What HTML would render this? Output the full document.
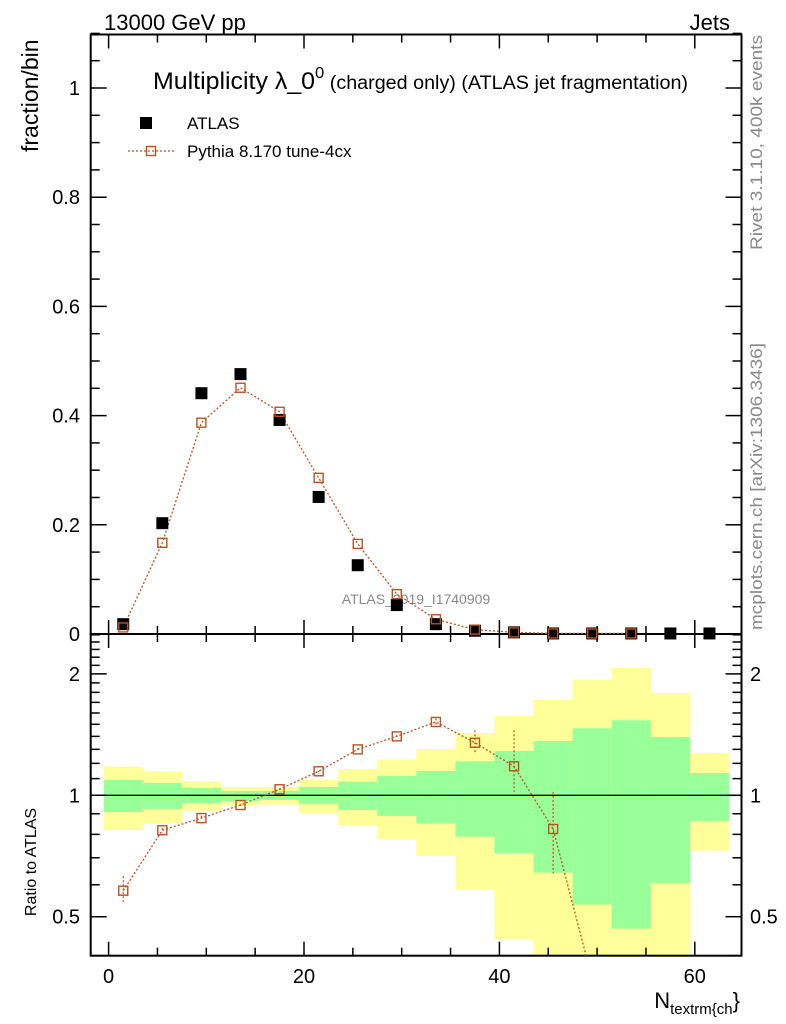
<!DOCTYPE html>
<html><head><meta charset="utf-8"><style>
body{margin:0;background:#fff;}
svg{display:block;font-family:"Liberation Sans",sans-serif;}
</style></head><body>
<svg id="chart" width="786" height="1024" viewBox="0 0 786 1024">
<text x="104" y="30" font-size="22">13000 GeV pp</text>
<text x="730" y="30" font-size="22" text-anchor="end">Jets</text>
<text x="153" y="89" font-size="24" textLength="535" lengthAdjust="spacingAndGlyphs">Multiplicity λ_0<tspan dy="-11" font-size="16">0</tspan><tspan dy="11" font-size="19"> (charged only) (ATLAS jet fragmentation)</tspan></text>
<text transform="translate(38,152) rotate(-90)" font-size="23" text-anchor="start">fraction/bin</text>
<text transform="translate(36,862) rotate(-90)" font-size="16" text-anchor="middle">Ratio to ATLAS</text>
<text transform="translate(762,250) rotate(-90)" font-size="17" fill="#888" textLength="215" lengthAdjust="spacingAndGlyphs">Rivet 3.1.10,  400k events</text>
<text transform="translate(762,630) rotate(-90)" font-size="17" fill="#888" textLength="287" lengthAdjust="spacingAndGlyphs">mcplots.cern.ch [arXiv:1306.3436]</text>
<text x="416" y="604" font-size="14" fill="#888" text-anchor="middle">ATLAS_2019_I1740909</text>
<text x="740" y="1008" font-size="22" text-anchor="end">N<tspan dy="6" font-size="15">textrm{ch</tspan><tspan dy="-6">}</tspan></text>
<rect x="140" y="117" width="12" height="12" fill="#000"/>
<text x="187" y="129" font-size="17">ATLAS</text>
<line x1="128" y1="151" x2="175" y2="151" stroke="#c0501e" stroke-width="1.3" stroke-dasharray="2,2"/>
<rect x="146.5" y="146.5" width="9" height="9" fill="none" stroke="#c0501e" stroke-width="1.4"/>
<text x="187" y="157" font-size="17">Pythia 8.170 tune-4cx</text>
<g id="g"></g>
</svg>
<script>
const binLo=[-0.5,3.5,7.5,11.5,15.5,19.5,23.5,27.5,31.5,35.5,39.5,43.5,47.5,51.5,55.5,59.5];
const dataX=[1.5,5.5,9.5,13.5,17.5,21.5,25.5,29.5,33.5,37.5,41.5,45.5,49.5,53.5,57.5,61.5];
const atlasY=[0.018,0.203,0.441,0.476,0.392,0.251,0.126,0.053,0.018,0.006,0.003,0.001,0.001,0.001,0.001,0.001];
const mcX=[1.5,5.5,9.5,13.5,17.5,21.5,25.5,29.5,33.5,37.5,41.5,45.5,49.5,53.5];
const mcY=[0.012,0.167,0.387,0.451,0.407,0.286,0.165,0.073,0.027,0.008,0.003,0.001,0.001,0.001];
const ratio=[0.58,0.819,0.878,0.946,1.035,1.147,1.30,1.40,1.52,1.35,1.18,0.825,0.35,0.3];
const ratioErrHi=[0.63,0.83,0.89,0.95,1.04,1.15,1.31,1.41,1.55,1.45,1.45,1.02,0.35,0.3];
const ratioErrLo=[0.54,0.81,0.87,0.94,1.03,1.14,1.29,1.39,1.49,1.27,1.02,0.64,0.35,0.3];
const yelHi=[1.179,1.147,1.083,1.049,1.049,1.091,1.162,1.226,1.303,1.428,1.573,1.723,1.936,2.069,1.794,1.274];
const yelLo=[0.820,0.851,0.916,0.946,0.948,0.904,0.841,0.778,0.707,0.584,0.439,0.3,0.3,0.3,0.3,0.729];
const grnHi=[1.091,1.073,1.043,1.025,1.025,1.049,1.081,1.117,1.149,1.214,1.288,1.364,1.466,1.535,1.395,1.136];
const grnLo=[0.909,0.925,0.957,0.968,0.974,0.953,0.920,0.889,0.851,0.790,0.718,0.643,0.536,0.467,0.605,0.864];
const mainTicks=[0,0.2,0.4,0.6,0.8,1];
const xTicks=[0,20,40,60];
const ratioTicks=[0.5,1,2];

const NS="http://www.w3.org/2000/svg";
const g=document.getElementById('g');
const L=90.7,R=741.5,T=34.5,MB=634,RB=955.7;
const sx=v=>108.6+v*9.77;
const sy=v=>MB-v*546;
const sr=v=>Math.min(RB,Math.max(MB,795.3-121.4*Math.log2(v)));
function mk(tag,attrs){const e=document.createElementNS(NS,tag);for(const k in attrs)e.setAttribute(k,attrs[k]);g.appendChild(e);return e;}
const cp=mk('clipPath',{id:'rc'});
const cr=document.createElementNS(NS,'rect');
cr.setAttribute('x',L);cr.setAttribute('y',MB);cr.setAttribute('width',R-L);cr.setAttribute('height',RB-MB);
cp.appendChild(cr);
binLo.forEach((b,i)=>{
 let e=mk('rect',{x:sx(b),y:sr(yelHi[i]),width:sx(b+4)-sx(b)+0.5,height:sr(yelLo[i])-sr(yelHi[i]),fill:'#ffff99'});
 
 
 e=mk('rect',{x:sx(b),y:sr(grnHi[i]),width:sx(b+4)-sx(b)+0.5,height:sr(grnLo[i])-sr(grnHi[i]),fill:'#99ff99'});
 
 
});
let e=mk('line',{x1:L,x2:R,y1:sr(1),y2:sr(1),stroke:'#000','stroke-width':1.3});


e=mk('rect',{x:L,y:T,width:R-L,height:MB-T,fill:'none',stroke:'#000','stroke-width':2});


e=mk('rect',{x:L,y:MB,width:R-L,height:RB-MB,fill:'none',stroke:'#000','stroke-width':2});


for(let v=0;v<=64;v+=5){const big=v%20==0;const len=big?14:8;
 [[T,1],[MB,-1],[MB,1],[RB,-1]].forEach(([y,d])=>{e=mk('line',{x1:sx(v),x2:sx(v),y1:y,y2:y+d*len,stroke:'#000','stroke-width':1.5});
 
 });}
xTicks.forEach(v=>{e=mk('text',{x:sx(v),y:983,'font-size':20,'text-anchor':'middle'});e.textContent=v;
 
 });
for(let i=0;i<=22;i++){const v=i*0.05;const big=i%4==0;const len=big?16:9;
 [[L,1],[R,-1]].forEach(([x,d])=>{e=mk('line',{x1:x,x2:x+d*len,y1:sy(v),y2:sy(v),stroke:'#000','stroke-width':1.5});
 
 });}
mainTicks.forEach(v=>{e=mk('text',{x:80,y:sy(v)+7,'font-size':20,'text-anchor':'end'});e.textContent=v==0?'0':(v==1?'1':v.toFixed(1));
 
 });
[0.4,0.5,0.6,0.7,0.8,0.9,1,2,1.1,1.2,1.3,1.4,1.5,1.6,1.7,1.8,1.9,2.1,2.2,2.3,2.4,2.5].forEach(v=>{const big=(v==0.5||v==1||v==2);const len=big?16:9;
 [[L,1],[R,-1]].forEach(([x,d])=>{e=mk('line',{x1:x,x2:x+d*len,y1:sr(v),y2:sr(v),stroke:'#000','stroke-width':1.5});
 
 });});
ratioTicks.forEach(v=>{[[80,'end'],[750,'start']].forEach(([x,a])=>{e=mk('text',{x:x,y:sr(v)+7,'font-size':20,'text-anchor':a});e.textContent=v;
 
 });});
e=mk('polyline',{points:mcX.map((x,i)=>sx(x)+','+sy(mcY[i])).join(' '),fill:'none',stroke:'#c0501e','stroke-width':1.3,'stroke-dasharray':'2,2'});


dataX.forEach((x,i)=>{e=mk('rect',{x:sx(x)-6,y:sy(atlasY[i])-6,width:12,height:12,fill:'#000'});
 
 });
mcX.forEach((x,i)=>{e=mk('rect',{x:sx(x)-4.5,y:sy(mcY[i])-4.5,width:9,height:9,fill:'none',stroke:'#c0501e','stroke-width':1.4});
 
 });
e=mk('polyline',{points:mcX.map((x,i)=>sx(x)+','+(795.3-121.4*Math.log2(ratio[i]))).join(' '),fill:'none',stroke:'#c0501e','stroke-width':1.3,'stroke-dasharray':'2,2','clip-path':'url(#rc)'});


mcX.forEach((x,i)=>{if(ratio[i]<0.41)return;
 e=mk('line',{x1:sx(x),x2:sx(x),y1:sr(ratioErrHi[i]),y2:sr(ratioErrLo[i]),stroke:'#c0501e','stroke-width':1.2,'stroke-dasharray':'2,2'});
 
 
 e=mk('rect',{x:sx(x)-4.5,y:sr(ratio[i])-4.5,width:9,height:9,fill:'none',stroke:'#c0501e','stroke-width':1.4});
 
 });
</script>
</body></html>
